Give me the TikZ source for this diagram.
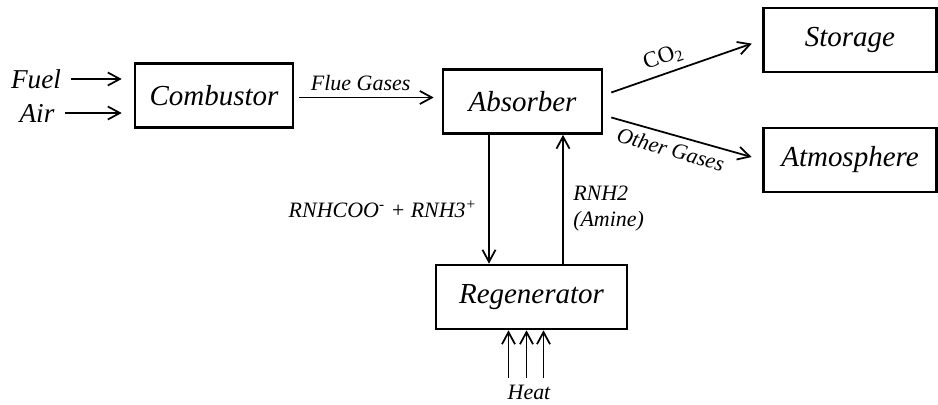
\documentclass[tikz,border=0pt]{standalone}
\usepackage{fontspec}
\setmainfont{Liberation Serif}
\usetikzlibrary{arrows.meta}
\tikzset{
    unit/.style={draw, line width=1.5pt, minimum height=1.28cm, inner sep=0pt,
        font=\fontsize{16.5}{18}\selectfont\itshape},
    flow/.style={-{Straight Barb[length=2.4mm,width=2.6mm]}, line width=1pt},
    feed/.style={font=\fontsize{15.5}{17}\selectfont\itshape},
    lbl/.style={font=\fontsize{12.5}{15}\selectfont\itshape}
}

\begin{document}
\begin{tikzpicture}[x=0.02cm, y=-0.02cm]
            \useasboundingbox (0,0) rectangle (938,405);

            \node[unit, minimum width=3.16cm] (comb) at (214,95.5) {Combustor};
            \node[unit, minimum width=3.18cm] (abs) at (522.5,101.5) {Absorber};
            \node[unit, minimum width=3.46cm] (store) at (850,40) {Storage};
            \node[unit, minimum width=3.46cm] (atm) at (850,160) {Atmosphere};
            \node[unit, minimum width=3.82cm] (regen) at (531.5,297) {Regenerator};

            \node[feed] (fuel) at (36,79) {Fuel};
            \node[feed] (air) at (37,113) {Air};
            \node[lbl] (heat) at (529,392) {Heat};

            % feeds into the combustor
            \draw[flow, shorten <=0.08cm, shorten >=0.24cm] (fuel.east) -- (fuel.east -| comb.west);
            \draw[flow, shorten <=0.08cm, shorten >=0.24cm] (air.east) -- (air.east -| comb.west);
            \draw[flow, shorten <=0.1cm, shorten >=0.16cm] ([shift={(0,2)}]comb.east) --
                node[lbl, above, pos=0.45] {Flue Gases} ([shift={(0,2)}]comb.east -| abs.west);

            % outlets of the absorber
            \draw[flow, shorten >=0.22cm] ([shift={(8,-9)}]abs.east) --
                node[above, sloped, pos=0.38, font=\fontsize{13}{15}\selectfont] {CO\textsubscript{2}} (store.west);
            \draw[flow, shorten >=0.22cm] ([shift={(8,16)}]abs.east) --
                node[lbl, below, sloped, pos=0.42] {Other Gases} (atm.west);

            % loop with the regenerator
            \draw[flow] ([shift={(-33.5,0)}]abs.south) --
                node[lbl, left=3pt, pos=0.58] {RNHCOO\textsuperscript{-} + RNH3\textsuperscript{+}}
                ([shift={(-33.5,0)}]abs.south |- regen.north);
            \draw[flow] ([shift={(40.5,0)}]abs.south |- regen.north) --
                node[lbl, right=2pt, pos=0.43, align=left] {RNH2\\(Amine)}
                ([shift={(40.5,0)}]abs.south);

            \foreach \d in {-23,-5,12}
                \draw[flow] ([shift={(\d,0)}]regen.south |- heat.north) -- ([shift={(\d,0)}]regen.south);
        \end{tikzpicture}
\end{document}
